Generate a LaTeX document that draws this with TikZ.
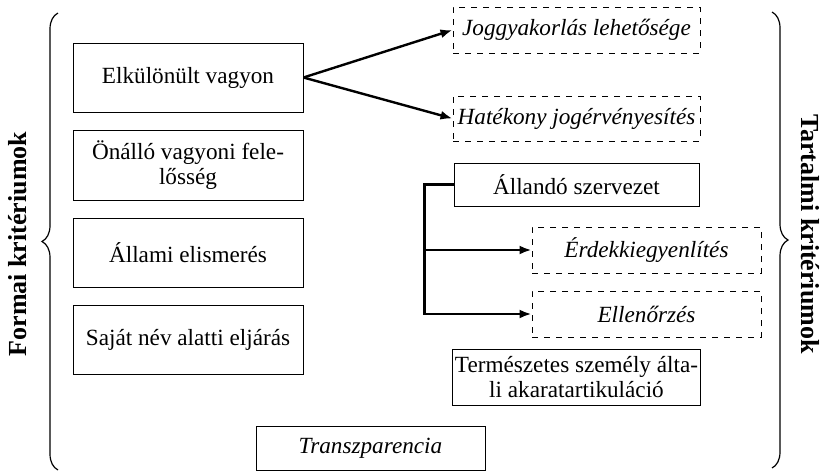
\documentclass[tikz,border=0pt]{standalone}
\usepackage{fontspec}
\setmainfont{Liberation Serif}
\usetikzlibrary{arrows.meta, decorations.pathreplacing}

\tikzset{
  box/.style={draw, line width=0.5pt, inner sep=1pt, align=center,
    minimum width=115pt, minimum height=34.5pt, font=\fontsize{11.6}{12.5}\selectfont},
  dbox/.style={box, dashed, font=\fontsize{11.6}{12.5}\selectfont\itshape},
  conn/.style={line width=1.2pt, -{Latex[length=6pt, width=4.5pt]}},
  brc/.style={decorate, decoration={brace, amplitude=8pt}, line width=0.6pt},
  side/.style={font=\fontsize{13}{15}\selectfont\bfseries}
}

\begin{document}
\begin{tikzpicture}[x=0.5pt, y=-0.5pt]
    \useasboundingbox (0,0) rectangle (824,472);

    % formal criteria
    \node[box] (elk) at (188,77.5) {Elkülönült vagyon};
    \node[box, minimum height=35pt] (onallo) at (188,165) {Önálló vagyoni fele-\\lősség};
    \node[box] (allami) at (188,252.5) {Állami elismerés};
    \node[box] (sajat) at (188,339.5) {Saját név alatti eljárás};

    % consequences
    \node[dbox, minimum width=123.5pt, minimum height=23pt] (jogg) at (576.5,30) {Joggyakorlás lehetősége};
    \node[dbox, minimum width=123.5pt, minimum height=22.5pt] (hatek) at (576.5,118.5) {Hatékony jogérvényesítés};

    % content criteria
    \node[box, minimum width=122.5pt, minimum height=21.5pt] (allando) at (576.5,184.5) {Állandó szervezet};
    \node[dbox, minimum width=114.5pt, minimum height=23pt] (erdek) at (646.5,250) {Érdekkiegyenlítés};
    \node[dbox, minimum width=114.5pt, minimum height=23pt] (ellen) at (646.5,314) {Ellenőrzés};
    \node[box, minimum width=122.5pt, minimum height=28pt] (term) at (576.5,377) {Természetes személy álta-\\li akaratartikuláció};
    \node[box, minimum width=114.5pt, minimum height=22pt, font=\fontsize{11.6}{12.5}\selectfont\itshape] (transz) at (370.5,448) {Transzparencia};

    % arrows
    \draw[conn] (elk.east) -- (jogg.west);
    \draw[conn] (elk.east) -- (hatek.west);
    \draw[conn] (allando.west) -- ++(-29,0) coordinate (elag) |- (ellen.west);
    \draw[conn] (elag |- erdek.west) -- (erdek.west);

    % braces
    \coordinate (lb1) at (58,470);
    \coordinate (lb2) at (58,13);
    \coordinate (rb1) at (772,12);
    \coordinate (rb2) at (772,468);
    \draw[brc] (lb1) -- (lb2);
    \draw[brc] (rb1) -- (rb2);

    \node[side, rotate=90] (formai) at (18,244) {Formai kritériumok};
    \node[side, rotate=-90] (tartalmi) at (810,234) {Tartalmi kritériumok};
\end{tikzpicture}
\end{document}
